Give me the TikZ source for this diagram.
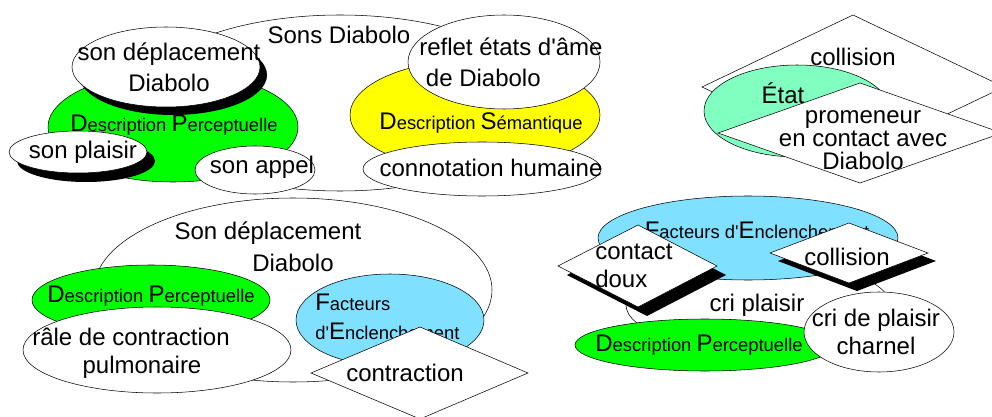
\documentclass[tikz,border=0pt]{standalone}
\usepackage{fontspec}
\setmainfont{Liberation Sans}
\definecolor{percgreen}{RGB}{0,255,0}
\definecolor{semyellow}{RGB}{255,255,0}
\definecolor{factblue}{RGB}{128,224,255}
\definecolor{etatmint}{RGB}{128,255,192}
\newcommand{\capletter}[1]{{\fontsize{18}{18}\selectfont #1}}
\newcommand{\apos}{\textquotesingle}
\begin{document}
\begin{tikzpicture}[x=0.75pt,y=0.75pt,yscale=-1,
  txt/.style={font=\fontsize{18}{23}\selectfont,inner sep=0pt,align=center},
  desc/.style={font=\fontsize{13.8}{22}\selectfont,inner sep=0pt,align=left}]
  \useasboundingbox (0,0) rectangle (992,417);
  % top left: Sons Diabolo
  \filldraw[fill=white] (340,103) ellipse (205 and 88);
  \node[txt] (sons) at (339,35) {Sons Diabolo};
  \filldraw[fill=percgreen] (173,127) ellipse (125 and 55);
  \node[desc] (dp1) at (174,125) {\capletter{D}escription \capletter{P}erceptuelle};
  \fill (173,75) ellipse (94 and 40);
  \filldraw[fill=white] (166,67) ellipse (94 and 40);
  \node[txt] (sondep) at (169,67) {son déplacement\\Diabolo};
  \fill (86,161) ellipse (69 and 21);
  \filldraw[fill=white] (78,152) ellipse (69 and 21);
  \node[txt] (plaisir) at (83,152) {son plaisir};
  \filldraw[fill=white] (255,170) ellipse (60 and 24);
  \node[txt] (appel) at (262,167) {son appel};
  \filldraw[fill=semyellow] (475,115) ellipse (125 and 55);
  \node[desc] (ds) at (481,123) {\capletter{D}escription \capletter{S}émantique};
  \filldraw[fill=white] (504,62) ellipse (96 and 47);
  \node[txt,align=left,anchor=west] (reflet) at (419,62) {reflet états d\apos âme\\\ de Diabolo};
  \filldraw[fill=white] (482,169) ellipse (119 and 27);
  \node[txt] (connot) at (491,168) {connotation humaine};
  % top right: Etat
  \draw[fill=white] (702,87) -- (853,15) -- (1004,87) -- (853,159) -- cycle;
  \node[txt] (coll1) at (853,57) {collision};
  \filldraw[fill=etatmint] (797,111) ellipse (93 and 46);
  \node[txt] (etat) at (783,93) {État};
  \filldraw[fill=white] (718,133) -- (860,83) -- (1002,133) -- (860,183) -- cycle;
  \node[txt,font=\fontsize{18}{17}\selectfont] (prom) at (863,140) {promeneur\\en contact avec\\Diabolo};
  % bottom left: Son deplacement Diabolo
  \filldraw[fill=white] (293,290) ellipse (199 and 92);
  \node[txt] (sondep2) at (268,233) {Son déplacement};
  \node[txt] (diab2) at (293,263) {Diabolo};
  \filldraw[fill=percgreen] (151,300) ellipse (119 and 35);
  \node[desc] (dp2) at (151,296) {\capletter{D}escription \capletter{P}erceptuelle};
  \filldraw[fill=white] (157,350) ellipse (134 and 43);
  \node[txt] (rale) at (131,337) {râle de contraction};
  \node[txt] (pulmo) at (142,367) {pulmonaire};
  \filldraw[fill=factblue] (390,320) ellipse (94 and 46);
  \node[desc,anchor=west] (fe1) at (315,317) {\capletter{F}acteurs\\d\apos\capletter{E}nclenchement};
  \filldraw[fill=white] (311,373) -- (420,327) -- (528,373) -- (420,419) -- cycle;
  \node[txt] (contr) at (405,373) {contraction};
  % bottom right: cri plaisir
  \filldraw[fill=white] (758,305) ellipse (132 and 45);
  \node[txt] (cri) at (757,305) {cri plaisir};
  \filldraw[fill=factblue] (748,238) ellipse (150 and 42);
  \node[desc] (fe2) at (757,230) {\capletter{F}acteurs d\apos\capletter{E}nclenchement};
  \filldraw[fill=percgreen] (705,345) ellipse (130 and 26);
  \node[desc] (dp3) at (699,345) {\capletter{D}escription \capletter{P}erceptuelle};
  \filldraw[fill=white] (879,332) ellipse (75 and 40);
  \node[txt,font=\fontsize{18}{21.5}\selectfont] (charnel) at (876,332) {cri de plaisir\\charnel};
  \fill[shift={(9,9)}] (558,266) -- (638,225) -- (717,266) -- (638,307) -- cycle;
  \draw[fill=white] (558,266) -- (638,225) -- (717,266) -- (638,307) -- cycle;
  \node[txt,align=left,anchor=west,font=\fontsize{18}{21}\selectfont] (doux) at (595,266) {contact\\doux};
  \fill[shift={(8,8)}] (770,253) -- (849,223) -- (928,253) -- (849,283) -- cycle;
  \draw[fill=white] (770,253) -- (849,223) -- (928,253) -- (849,283) -- cycle;
  \node[txt] (coll2) at (847,257) {collision};
\end{tikzpicture}
\end{document}
